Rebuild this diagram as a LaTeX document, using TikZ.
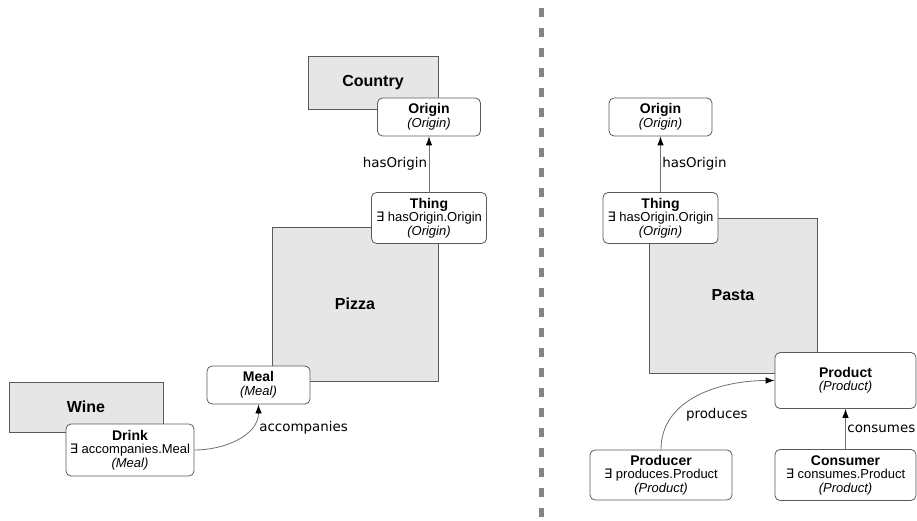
\documentclass[tikz,border=0pt]{standalone}
\usepackage{fontspec}
\setmainfont{Liberation Sans}
\newfontfamily\etiq{DejaVu Sans}
\usetikzlibrary{arrows.meta,positioning}

\definecolor{borde}{HTML}{5A5A5A}
\definecolor{gris}{HTML}{E6E6E6}
\definecolor{linea}{HTML}{707070}
\definecolor{separa}{HTML}{858585}

\newcommand{\existe}{{\etiq ∃}}
\newcommand{\titulo}[1]{{\fontsize{14}{13.5}\selectfont\bfseries #1}}

\begin{document}
\begin{tikzpicture}[->,>={Latex[length=9pt,width=6.5pt,color=black]},x=1pt,y=1pt,line width=0.8pt]
\tikzstyle{clase}=[draw=borde,fill=white,rounded corners=5pt,align=center,inner sep=0pt,font=\fontsize{13}{13.5}\selectfont]
\tikzstyle{concepto}=[draw=borde,fill=gris,inner sep=0pt,font=\fontsize{16}{18}\selectfont\bfseries]
\tikzstyle{etiqueta}=[font=\etiq\fontsize{13.4}{16}\selectfont,inner sep=1.5pt,text=black]
\useasboundingbox (0,0) rectangle (917,-521);

% Conceptos grises (fondo)
\node[concepto,minimum width=130pt,minimum height=53pt] (country) at (373,-82.5) {Country};
\node[concepto,minimum width=166pt,minimum height=154pt] (pizza) at (355,-304) {Pizza};
\node[concepto,minimum width=154pt,minimum height=50pt] (wine) at (86,-407) {Wine};
\node[concepto,minimum width=168pt,minimum height=155pt] (pasta) at (733,-295.5) {Pasta};

% Clases a la izquierda
\node[clase,minimum width=103pt,minimum height=38pt] (origenI) at (429,-117)
  {\titulo{Origin}\\ \textit{(Origin)}};
\node[clase,minimum width=115pt,minimum height=51pt] (cosaI) at (429,-218)
  {\titulo{Thing}\\ \existe{} hasOrigin.Origin\\ \textit{(Origin)}};
\node[clase,minimum width=103pt,minimum height=38pt] (comida) at (258.5,-385)
  {\titulo{Meal}\\ \textit{(Meal)}};
\node[clase,minimum width=128pt,minimum height=52pt] (bebida) at (130,-450)
  {\titulo{Drink}\\ \existe{} accompanies.Meal\\ \textit{(Meal)}};

% Clases a la derecha
\node[clase,minimum width=103pt,minimum height=38pt] (origenD) at (660.5,-117)
  {\titulo{Origin}\\ \textit{(Origin)}};
\node[clase,minimum width=115pt,minimum height=51pt] (cosaD) at (660.5,-218)
  {\titulo{Thing}\\ \existe{} hasOrigin.Origin\\ \textit{(Origin)}};
\node[clase,minimum width=141pt,minimum height=56pt] (producto) at (845.5,-380.5)
  {\titulo{Product}\\ \textit{(Product)}};
\node[clase,minimum width=142pt,minimum height=50pt] (productor) at (661,-475)
  {\titulo{Producer}\\ \existe{} produces.Product\\ \textit{(Product)}};
\node[clase,minimum width=141pt,minimum height=51pt] (consumidor) at (845.5,-475)
  {\titulo{Consumer}\\ \existe{} consumes.Product\\ \textit{(Product)}};

% Relaciones
\path[draw=linea]
(cosaI) edge node[etiqueta,left] {hasOrigin} (origenI)
(bebida) edge[out=0,in=-90] node[etiqueta,pos=0.7,right=7pt] {accompanies} (comida)
(cosaD) edge node[etiqueta,right] {hasOrigin} (origenD)
(productor) edge[out=90,in=180] node[etiqueta,pos=0.5,xshift=18.5pt,yshift=-19pt] {produces} (producto)
(consumidor) edge node[etiqueta,right] {consumes} (producto);

% Separador
\draw[-,draw=separa,line width=5pt,dash pattern=on 9pt off 11pt] (541,-8) -- (541,-521);
\end{tikzpicture}
\end{document}
